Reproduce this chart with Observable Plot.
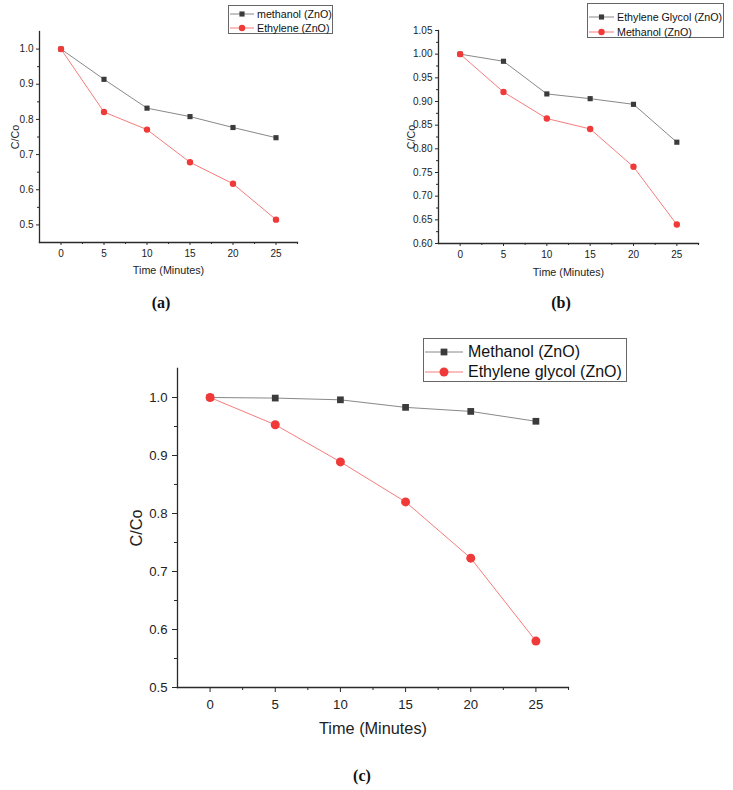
<!DOCTYPE html>
<html>
<head>
<meta charset="utf-8">
<script src="https://cdn.jsdelivr.net/npm/d3@7"></script>
<script src="https://cdn.jsdelivr.net/npm/@observablehq/plot@0.6"></script>
<style>
  html, body { margin: 0; padding: 0; background: #fff; }
  #root { position: relative; width: 733px; height: 790px; font-family: "Liberation Sans", Arial, sans-serif; }
  #root svg.plot { position: absolute; }
  .legend { position: absolute; border: 1px solid #666; background: #fff; box-sizing: border-box; }
  .legend .row { position: absolute; left: 0; white-space: nowrap; color: #111; }
  .legend .row svg { position: absolute; left: 0; }
  .legend .row span { position: absolute; }
  .plabel { position: absolute; font-family: "Liberation Serif", "Times New Roman", serif; font-weight: bold; transform: translate(-50%, -50%); color: #111; }
</style>
</head>
<body>
<div id="root"></div>
<script>
// ---------- data ----------
const time = [0, 5, 10, 15, 20, 25];

// panel (a)
const aMethanol = [1.0, 0.914, 0.832, 0.808, 0.777, 0.748];
const aEthylene = [1.0, 0.821, 0.771, 0.678, 0.617, 0.515];
const aNames = ["methanol (ZnO)", "Ethylene (ZnO)"];

// panel (b)
const bEthyleneGlycol = [1.0, 0.985, 0.916, 0.906, 0.894, 0.814];
const bMethanol = [1.0, 0.920, 0.864, 0.842, 0.762, 0.640];
const bNames = ["Ethylene Glycol (ZnO)", "Methanol (ZnO)"];

// panel (c)
const cMethanol = [1.0, 0.999, 0.996, 0.983, 0.976, 0.959];
const cEthyleneGlycol = [1.0, 0.953, 0.889, 0.820, 0.723, 0.580];
const cNames = ["Methanol (ZnO)", "Ethylene glycol (ZnO)"];

// tick labels
const xTicks = [0, 5, 10, 15, 20, 25];
const xMinor = [2.5, 7.5, 12.5, 17.5, 22.5, 27.5];
const aYTicks = [0.5, 0.6, 0.7, 0.8, 0.9, 1.0];
const aYMinor = [0.55, 0.65, 0.75, 0.85, 0.95];
const bYTicks = [0.60, 0.65, 0.70, 0.75, 0.80, 0.85, 0.90, 0.95, 1.00, 1.05];
const bYMinor = [0.625, 0.675, 0.725, 0.775, 0.825, 0.875, 0.925, 0.975, 1.025];
const cYTicks = [0.5, 0.6, 0.7, 0.8, 0.9, 1.0];
const cYMinor = [0.55, 0.65, 0.75, 0.85, 0.95];

const GREY = "#3b3b3b", GREYLINE = "#6a6a6a", RED = "#f03a3a", REDLINE = "#f25a5a", AXIS = "#2a2a2a";
const FONT = "Liberation Sans, Arial, sans-serif";

const root = document.getElementById("root");

function panel(o) {
  const s1 = time.map((t, i) => ({t, v: o.s1[i]}));
  const s2 = time.map((t, i) => ({t, v: o.s2[i]}));
  const fmt = d3.format(o.yFmt);
  const svg = Plot.plot({
    width: o.w, height: o.h,
    marginLeft: o.ml, marginRight: o.mr, marginTop: o.mt, marginBottom: o.mb,
    style: {fontFamily: FONT, color: "#222", background: "transparent"},
    x: {domain: [-2.5, 27.5]},
    y: {domain: o.yDomain},
    marks: [
      Plot.axisX({ticks: xTicks, tickSize: o.tick, tickPadding: o.xPad, fontSize: o.tickFs, stroke: AXIS,
        label: "Time (Minutes)", labelAnchor: "center", labelArrow: "none", labelOffset: o.xLabOff}),
      Plot.axisX({ticks: xMinor, tickSize: o.minor, tickFormat: () => "", label: null, stroke: AXIS}),
      Plot.axisY({ticks: o.yTicks, tickSize: o.tick, tickPadding: o.yPad, fontSize: o.tickFs, tickFormat: fmt, stroke: AXIS,
        label: "C/Co", labelAnchor: "center", labelArrow: "none", labelOffset: o.yLabOff}),
      Plot.axisY({ticks: o.yMinor, tickSize: o.minor, tickFormat: () => "", label: null, stroke: AXIS}),
      Plot.frame({anchor: "left", stroke: AXIS, strokeWidth: 1.3}),
      Plot.frame({anchor: "bottom", stroke: AXIS, strokeWidth: 1.3}),
      Plot.line(s1, {x: "t", y: "v", stroke: GREYLINE, strokeWidth: 0.8}),
      Plot.dot(s1, {x: "t", y: "v", symbol: "square", fill: GREY, r: o.rs, stroke: null}),
      Plot.line(s2, {x: "t", y: "v", stroke: REDLINE, strokeWidth: 0.8}),
      Plot.dot(s2, {x: "t", y: "v", symbol: "circle", fill: RED, r: o.rc, stroke: null})
    ]
  });
  svg.classList.add("plot");
  svg.style.left = o.left + "px";
  svg.style.top = o.top + "px";
  svg.querySelectorAll("g[aria-label='y-axis label'] text, g[aria-label='x-axis label'] text")
    .forEach(t => t.setAttribute("font-size", o.labFs));
  root.appendChild(svg);

  // legend
  const lg = document.createElement("div");
  lg.className = "legend";
  Object.assign(lg.style, {left: o.lg.x + "px", top: o.lg.y + "px", width: o.lg.w + "px", height: o.lg.h + "px"});
  [[o.names[0], "square", GREY, GREYLINE, o.rs], [o.names[1], "circle", RED, REDLINE, o.rc]].forEach(([name, sym, fill, line, r], i) => {
    const row = document.createElement("div");
    row.className = "row";
    const cy = o.lg.rows[i];
    row.style.top = (cy - 10) + "px";
    const sw = o.lg.sw;
    const ns = "http://www.w3.org/2000/svg";
    const s = document.createElementNS(ns, "svg");
    s.setAttribute("width", sw + 2); s.setAttribute("height", 20);
    s.style.left = "1px";
    const ln = document.createElementNS(ns, "line");
    ln.setAttribute("x1", 0); ln.setAttribute("x2", sw); ln.setAttribute("y1", 10); ln.setAttribute("y2", 10);
    ln.setAttribute("stroke", line); ln.setAttribute("stroke-width", 0.8);
    s.appendChild(ln);
    const path = document.createElementNS(ns, "path");
    const symb = sym === "square" ? d3.symbolSquare : d3.symbolCircle;
    path.setAttribute("d", d3.symbol(symb, Math.PI * r * r)());
    path.setAttribute("transform", `translate(${sw / 2},10)`);
    path.setAttribute("fill", fill);
    s.appendChild(path);
    row.appendChild(s);
    const sp = document.createElement("span");
    sp.textContent = name;
    sp.style.left = o.lg.tx + "px";
    sp.style.fontSize = o.lg.fs + "px";
    sp.style.lineHeight = "20px";
    sp.style.top = "0px";
    row.appendChild(sp);
    lg.appendChild(row);
  });
  root.appendChild(lg);

  const pl = document.createElement("div");
  pl.className = "plabel";
  pl.textContent = o.tag;
  Object.assign(pl.style, {left: o.tagX + "px", top: o.tagY + "px", fontSize: o.tagFs + "px"});
  root.appendChild(pl);
}

panel({
  left: 0, top: 0, w: 360, h: 290, ml: 39, mr: 63, mt: 31, mb: 48,
  yDomain: [0.45, 1.05], yTicks: aYTicks, yMinor: aYMinor, yFmt: ".1f",
  s1: aMethanol, s2: aEthylene, names: aNames,
  tick: 3, minor: 2, xPad: 4, yPad: 3, tickFs: 10, labFs: 10.75,
  xLabOff: 31, yLabOff: 28, rs: 2.9, rc: 3.2,
  lg: {x: 228, y: 5, w: 105, h: 29, rows: [7.5, 21.5], sw: 24, tx: 28, fs: 10.7},
  tag: "(a)", tagX: 161, tagY: 303, tagFs: 16
});

panel({
  left: 370, top: 0, w: 363, h: 290, ml: 68, mr: 35, mt: 30, mb: 47,
  yDomain: [0.60, 1.05], yTicks: bYTicks, yMinor: bYMinor, yFmt: ".2f",
  s1: bEthyleneGlycol, s2: bMethanol, names: bNames,
  tick: 3, minor: 2, xPad: 4, yPad: 3, tickFs: 10, labFs: 10.75,
  xLabOff: 32, yLabOff: 31, rs: 2.9, rc: 3.2,
  lg: {x: 587, y: 3, w: 137, h: 35, rows: [12.5, 27.5], sw: 25, tx: 29, fs: 10.7},
  tag: "(b)", tagX: 561, tagY: 303, tagFs: 16
});

panel({
  left: 100, top: 330, w: 500, h: 420, ml: 77, mr: 32, mt: 38, mb: 63,
  yDomain: [0.5, 1.05], yTicks: cYTicks, yMinor: cYMinor, yFmt: ".1f",
  s1: cMethanol, s2: cEthyleneGlycol, names: cNames,
  tick: 5, minor: 3, xPad: 7, yPad: 5, tickFs: 13.2, labFs: 16.3,
  xLabOff: 46, yLabOff: 47, rs: 3.8, rc: 4.5,
  lg: {x: 423, y: 338, w: 204, h: 44, rows: [12.5, 32.5], sw: 38, tx: 44, fs: 16},
  tag: "(c)", tagX: 362, tagY: 776, tagFs: 16
});
</script>
</body>
</html>
